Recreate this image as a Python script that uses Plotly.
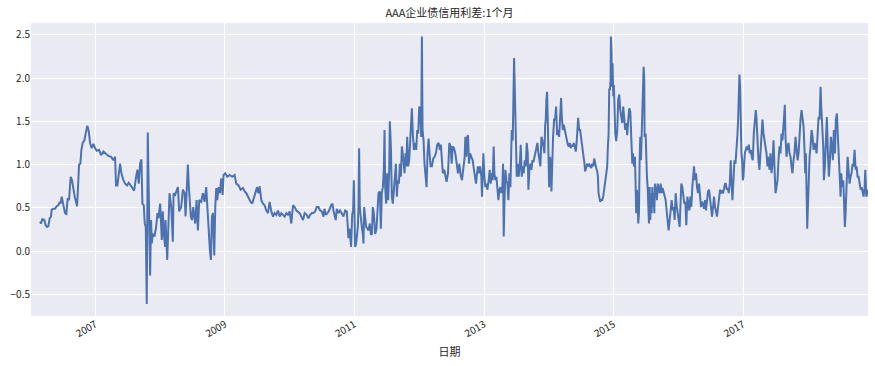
import pandas as pd
import plotly.graph_objects as go

title_text = "AAA企业债信用利差:1个月"
x_label = "日期"
y_ticks = [-0.5, 0.0, 0.5, 1.0, 1.5, 2.0, 2.5]
x_tick_years = ["2007", "2009", "2011", "2013", "2015", "2017"]

# (decimal year, spread %)
seg_2006_2007 = [
    (2006.145, 0.34), (2006.160, 0.32), (2006.181, 0.37), (2006.212, 0.36), (2006.232, 0.30),
    (2006.253, 0.28), (2006.274, 0.29), (2006.294, 0.38), (2006.315, 0.40), (2006.325, 0.48),
    (2006.351, 0.49), (2006.377, 0.49), (2006.402, 0.52), (2006.428, 0.53), (2006.449, 0.57),
    (2006.464, 0.55), (2006.480, 0.63), (2006.495, 0.56), (2006.515, 0.47), (2006.531, 0.44),
    (2006.552, 0.43), (2006.572, 0.61), (2006.593, 0.59), (2006.619, 0.86), (2006.639, 0.82),
    (2006.660, 0.71), (2006.681, 0.63), (2006.701, 0.57), (2006.717, 0.52), (2006.732, 0.74),
    (2006.748, 1.00), (2006.768, 1.01), (2006.784, 1.17), (2006.804, 1.25), (2006.830, 1.28),
    (2006.851, 1.36), (2006.876, 1.45), (2006.897, 1.39), (2006.918, 1.25), (2006.943, 1.19),
    (2006.969, 1.24), (2006.995, 1.19), (2007.021, 1.16), (2007.057, 1.17), (2007.088, 1.11),
    (2007.124, 1.15), (2007.160, 1.13), (2007.201, 1.10), (2007.242, 1.09), (2007.278, 1.05),
    (2007.304, 1.09), (2007.319, 0.76), (2007.340, 0.76), (2007.361, 0.90), (2007.381, 1.01),
    (2007.402, 0.90), (2007.428, 0.83), (2007.459, 0.78), (2007.489, 0.76), (2007.515, 0.79),
    (2007.541, 0.76), (2007.567, 0.73), (2007.598, 0.70), (2007.629, 0.86), (2007.649, 0.94),
    (2007.670, 0.78), (2007.690, 1.01), (2007.711, 1.06), (2007.726, 0.55), (2007.747, 0.53),
    (2007.762, 0.32), (2007.778, 0.28), (2007.793, -0.61), (2007.809, 1.37), (2007.824, 0.67),
    (2007.835, 0.36), (2007.845, -0.28), (2007.860, 0.36), (2007.871, 0.09), (2007.886, 0.20),
    (2007.912, 0.17), (2007.938, 0.28), (2007.958, 0.44), (2007.974, 0.38), (2007.989, 0.47),
]
seg_2008_2010 = [
    (2008.000, 0.55), (2008.015, 0.30), (2008.025, 0.13), (2008.041, 0.46), (2008.056, 0.20),
    (2008.077, 0.05), (2008.083, 0.36), (2008.109, -0.10), (2008.129, 0.51), (2008.145, 0.67),
    (2008.171, 0.51), (2008.196, 0.11), (2008.207, 0.67), (2008.232, 0.65), (2008.258, 0.71),
    (2008.274, 0.74), (2008.294, 0.46), (2008.325, 0.51), (2008.351, 0.71), (2008.377, 0.67),
    (2008.392, 0.40), (2008.413, 0.78), (2008.428, 1.00), (2008.444, 0.73), (2008.459, 0.59),
    (2008.474, 0.40), (2008.490, 0.36), (2008.511, 0.51), (2008.526, 0.40), (2008.541, 0.32),
    (2008.562, 0.59), (2008.583, 0.24), (2008.603, 0.59), (2008.634, 0.57), (2008.660, 0.67),
    (2008.686, 0.57), (2008.711, 0.74), (2008.727, 0.51), (2008.748, 0.32), (2008.768, 0.01),
    (2008.784, -0.10), (2008.799, 0.40), (2008.815, 0.44), (2008.835, -0.05), (2008.851, 0.51),
    (2008.866, 0.73), (2008.882, 0.59), (2008.902, 0.74), (2008.923, 0.67), (2008.943, 0.84),
    (2008.964, 0.65), (2008.979, 0.88), (2009.005, 0.90), (2009.036, 0.86), (2009.072, 0.88),
    (2009.113, 0.86), (2009.149, 0.88), (2009.175, 0.78), (2009.211, 0.76), (2009.242, 0.71),
    (2009.278, 0.73), (2009.304, 0.69), (2009.330, 0.67), (2009.366, 0.61), (2009.397, 0.57),
    (2009.422, 0.55), (2009.448, 0.63), (2009.474, 0.71), (2009.495, 0.74), (2009.515, 0.67),
    (2009.536, 0.75), (2009.562, 0.59), (2009.587, 0.55), (2009.613, 0.53), (2009.639, 0.47),
    (2009.665, 0.44), (2009.690, 0.57), (2009.716, 0.46), (2009.742, 0.40), (2009.768, 0.44),
    (2009.793, 0.42), (2009.819, 0.47), (2009.845, 0.40), (2009.871, 0.44), (2009.896, 0.42),
    (2009.922, 0.40), (2009.948, 0.44), (2009.974, 0.42), (2009.999, 0.46), (2010.025, 0.32),
    (2010.051, 0.53), (2010.077, 0.51), (2010.103, 0.47), (2010.128, 0.46), (2010.154, 0.44),
    (2010.180, 0.40), (2010.206, 0.36), (2010.231, 0.44),
]
seg_2010_2012 = [
    (2010.263, 0.42), (2010.289, 0.38), (2010.315, 0.42), (2010.341, 0.44), (2010.366, 0.44),
    (2010.392, 0.46), (2010.418, 0.51), (2010.444, 0.51), (2010.469, 0.47), (2010.495, 0.46),
    (2010.521, 0.40), (2010.536, 0.49), (2010.557, 0.42), (2010.583, 0.44), (2010.608, 0.47),
    (2010.639, 0.53), (2010.660, 0.55), (2010.675, 0.47), (2010.691, 0.40), (2010.711, 0.36),
    (2010.727, 0.49), (2010.753, 0.44), (2010.778, 0.47), (2010.804, 0.44), (2010.830, 0.40),
    (2010.856, 0.47), (2010.881, 0.46), (2010.897, 0.28), (2010.907, 0.15), (2010.923, 0.26),
    (2010.933, 0.13), (2010.948, 0.05), (2010.964, 0.42), (2010.979, 0.47), (2010.990, 0.82),
    (2011.000, 0.44), (2011.010, 0.05), (2011.026, 0.09), (2011.041, 0.17), (2011.052, 0.28),
    (2011.062, 0.51), (2011.072, 1.19), (2011.082, 0.51), (2011.098, 0.32), (2011.113, 0.28),
    (2011.129, 0.20), (2011.139, 0.09), (2011.149, 0.51), (2011.165, 0.32), (2011.180, 0.28),
    (2011.201, 0.26), (2011.216, 0.24), (2011.237, 0.32), (2011.252, 0.20), (2011.268, 0.19),
    (2011.283, 0.51), (2011.299, 0.44), (2011.319, 0.20), (2011.340, 0.26), (2011.361, 0.61),
    (2011.371, 0.67), (2011.392, 0.69), (2011.407, 0.26), (2011.422, 0.67), (2011.438, 0.74),
    (2011.453, 0.94), (2011.464, 1.40), (2011.474, 0.74), (2011.489, 0.55), (2011.505, 0.90),
    (2011.520, 0.59), (2011.536, 0.94), (2011.546, 1.50), (2011.562, 1.21), (2011.577, 0.63),
    (2011.592, 0.55), (2011.608, 0.74), (2011.623, 0.86), (2011.639, 1.01), (2011.654, 0.63),
    (2011.670, 0.82), (2011.685, 0.78), (2011.701, 1.01), (2011.716, 0.86), (2011.732, 1.21),
    (2011.742, 1.15), (2011.757, 0.98), (2011.773, 0.90), (2011.788, 1.13), (2011.799, 0.98),
    (2011.814, 1.32), (2011.829, 0.98), (2011.845, 1.05), (2011.860, 1.28), (2011.876, 1.40),
    (2011.886, 1.65), (2011.902, 1.34), (2011.917, 1.17), (2011.938, 1.25), (2011.953, 1.17),
    (2011.969, 1.40), (2011.984, 1.36), (2012.000, 1.67), (2012.015, 1.63), (2012.030, 1.32),
    (2012.041, 2.48), (2012.051, 1.40), (2012.066, 1.28), (2012.082, 1.00), (2012.097, 0.90),
    (2012.113, 0.74), (2012.128, 1.13), (2012.144, 1.30), (2012.159, 1.13), (2012.175, 0.98),
    (2012.195, 0.98), (2012.216, 1.07), (2012.236, 1.09), (2012.257, 1.13), (2012.278, 1.23),
    (2012.298, 1.25), (2012.319, 1.17), (2012.334, 1.23), (2012.350, 1.05), (2012.365, 0.90),
    (2012.386, 0.94), (2012.401, 0.86), (2012.422, 0.80),
]
seg_2012_2014 = [
    (2012.444, 0.90), (2012.464, 1.25), (2012.485, 1.21), (2012.500, 1.01), (2012.516, 1.21),
    (2012.536, 1.19), (2012.557, 1.13), (2012.578, 0.98), (2012.598, 0.90), (2012.619, 1.01),
    (2012.639, 0.88), (2012.660, 0.82), (2012.681, 0.98), (2012.701, 1.09), (2012.712, 1.32),
    (2012.727, 1.09), (2012.742, 1.32), (2012.753, 1.34), (2012.768, 1.01), (2012.784, 1.13),
    (2012.804, 1.09), (2012.825, 1.05), (2012.845, 0.94), (2012.861, 0.82), (2012.876, 0.78),
    (2012.892, 0.90), (2012.907, 0.98), (2012.923, 0.90), (2012.938, 0.98), (2012.959, 0.86),
    (2012.969, 0.63), (2012.979, 0.90), (2012.990, 1.13), (2013.005, 0.86), (2013.021, 0.74),
    (2013.036, 0.78), (2013.052, 0.71), (2013.072, 0.82), (2013.088, 0.94), (2013.103, 0.78),
    (2013.118, 0.90), (2013.134, 0.82), (2013.149, 1.21), (2013.160, 0.90), (2013.175, 0.82),
    (2013.191, 0.86), (2013.206, 0.74), (2013.222, 0.59), (2013.237, 0.71), (2013.252, 0.74),
    (2013.268, 0.67), (2013.283, 0.74), (2013.294, 1.01), (2013.304, 0.17), (2013.314, 0.51),
    (2013.330, 0.94), (2013.345, 0.82), (2013.361, 0.78), (2013.376, 0.59), (2013.392, 0.90),
    (2013.407, 0.74), (2013.418, 1.21), (2013.428, 1.40), (2013.443, 1.28), (2013.453, 1.63),
    (2013.464, 2.23), (2013.474, 1.90), (2013.484, 1.40), (2013.495, 0.94), (2013.505, 0.86),
    (2013.520, 1.01), (2013.536, 0.86), (2013.551, 0.98), (2013.567, 1.23), (2013.582, 0.86),
    (2013.598, 0.98), (2013.613, 0.90), (2013.629, 1.05), (2013.644, 0.98), (2013.659, 1.25),
    (2013.675, 1.13), (2013.685, 0.71), (2013.701, 0.94), (2013.716, 1.01), (2013.732, 0.94),
    (2013.747, 1.05), (2013.763, 1.03), (2013.778, 1.09), (2013.793, 1.15), (2013.809, 1.21),
    (2013.824, 1.25), (2013.840, 1.13), (2013.855, 1.05), (2013.871, 0.98), (2013.886, 1.32),
    (2013.902, 1.28), (2013.917, 1.21), (2013.933, 1.13), (2013.943, 1.44), (2013.953, 1.52),
    (2013.963, 1.75), (2013.974, 1.84), (2013.984, 1.52), (2013.994, 1.13), (2014.005, 0.74),
    (2014.020, 1.09), (2014.030, 1.01), (2014.041, 0.69), (2014.051, 1.05), (2014.066, 1.32),
    (2014.082, 1.52), (2014.097, 1.52), (2014.113, 1.67), (2014.128, 1.34), (2014.144, 1.40),
    (2014.159, 1.32), (2014.175, 1.55), (2014.190, 1.77), (2014.201, 1.55), (2014.216, 1.40),
    (2014.231, 1.46), (2014.247, 1.40), (2014.262, 1.32), (2014.278, 1.25), (2014.293, 1.23),
    (2014.309, 1.21), (2014.324, 1.25), (2014.340, 1.19), (2014.355, 1.23), (2014.370, 1.21),
    (2014.386, 1.25), (2014.401, 1.21), (2014.417, 1.15), (2014.432, 1.28), (2014.443, 1.44),
    (2014.453, 1.54), (2014.468, 1.40), (2014.484, 1.40), (2014.504, 1.28), (2014.520, 1.19),
    (2014.535, 1.15), (2014.551, 1.01), (2014.561, 0.92),
]
seg_2014_2016 = [
    (2014.593, 1.01), (2014.608, 0.98), (2014.624, 1.01), (2014.639, 0.98), (2014.655, 0.96),
    (2014.670, 1.01), (2014.686, 0.98), (2014.701, 1.07), (2014.717, 0.98), (2014.732, 0.96),
    (2014.748, 0.92), (2014.758, 0.86), (2014.768, 0.67), (2014.778, 0.63), (2014.794, 0.57),
    (2014.809, 0.59), (2014.825, 0.59), (2014.840, 0.63), (2014.856, 0.71), (2014.871, 0.78),
    (2014.887, 0.88), (2014.902, 0.98), (2014.912, 1.21), (2014.923, 1.34), (2014.933, 1.88),
    (2014.943, 1.86), (2014.954, 1.98), (2014.959, 2.48), (2014.969, 2.29), (2014.974, 1.90),
    (2014.985, 2.17), (2014.995, 1.79), (2015.005, 1.92), (2015.015, 1.52), (2015.026, 1.36),
    (2015.041, 1.27), (2015.057, 1.40), (2015.072, 1.75), (2015.088, 1.81), (2015.103, 1.63),
    (2015.119, 1.52), (2015.134, 1.48), (2015.149, 1.67), (2015.165, 1.52), (2015.180, 1.40),
    (2015.196, 1.48), (2015.211, 1.34), (2015.227, 1.52), (2015.242, 1.65), (2015.258, 1.61),
    (2015.268, 1.44), (2015.278, 1.09), (2015.289, 1.01), (2015.299, 1.13), (2015.314, 0.98),
    (2015.330, 1.09), (2015.340, 0.67), (2015.350, 0.44), (2015.361, 0.71), (2015.371, 0.59),
    (2015.381, 0.32), (2015.392, 0.44), (2015.402, 1.05), (2015.412, 1.32), (2015.423, 1.05),
    (2015.433, 1.32), (2015.443, 1.79), (2015.453, 1.90), (2015.464, 2.13), (2015.474, 1.98),
    (2015.479, 1.32), (2015.495, 1.36), (2015.505, 0.96), (2015.515, 0.86), (2015.526, 0.74),
    (2015.536, 0.55), (2015.546, 0.32), (2015.557, 0.74), (2015.567, 0.36), (2015.577, 0.67),
    (2015.587, 0.44), (2015.598, 0.74), (2015.608, 0.51), (2015.618, 0.67), (2015.629, 0.44),
    (2015.639, 0.78), (2015.649, 0.63), (2015.659, 0.74), (2015.670, 0.59), (2015.680, 0.78),
    (2015.696, 0.71), (2015.711, 0.67), (2015.727, 0.78), (2015.742, 0.67), (2015.757, 0.73),
    (2015.773, 0.69), (2015.789, 0.63), (2015.804, 0.59), (2015.819, 0.47), (2015.835, 0.36),
    (2015.850, 0.24), (2015.866, 0.36), (2015.881, 0.46), (2015.897, 0.59), (2015.912, 0.47),
    (2015.928, 0.51), (2015.943, 0.36), (2015.959, 0.67), (2015.974, 0.53), (2015.989, 0.40),
    (2016.005, 0.36), (2016.020, 0.28), (2016.036, 0.59), (2016.046, 0.78), (2016.062, 0.74),
    (2016.077, 0.59), (2016.092, 0.55), (2016.108, 0.57), (2016.123, 0.30), (2016.139, 0.63),
    (2016.154, 0.55), (2016.170, 0.47), (2016.185, 0.63), (2016.200, 0.51), (2016.216, 0.74),
    (2016.231, 0.94), (2016.242, 0.98), (2016.257, 0.82), (2016.273, 0.90), (2016.288, 0.74),
    (2016.303, 0.67), (2016.319, 0.78), (2016.334, 0.59), (2016.350, 0.51), (2016.365, 0.57),
    (2016.381, 0.55), (2016.396, 0.49), (2016.412, 0.59), (2016.427, 0.47), (2016.443, 0.59),
    (2016.458, 0.69), (2016.474, 0.71), (2016.489, 0.59), (2016.505, 0.55), (2016.520, 0.40),
    (2016.536, 0.51), (2016.551, 0.63), (2016.567, 0.51), (2016.582, 0.44), (2016.597, 0.40),
    (2016.613, 0.51), (2016.628, 0.59), (2016.644, 0.71), (2016.659, 0.67), (2016.674, 0.69),
    (2016.690, 0.67), (2016.705, 0.74), (2016.721, 0.78),
]
seg_2016_2018 = [
    (2016.732, 0.78), (2016.748, 0.71), (2016.763, 0.73), (2016.778, 0.67), (2016.794, 0.78),
    (2016.809, 1.05), (2016.820, 0.82), (2016.835, 0.59), (2016.851, 0.82), (2016.866, 1.05),
    (2016.882, 1.01), (2016.897, 1.13), (2016.912, 1.34), (2016.923, 1.52), (2016.933, 1.79),
    (2016.943, 2.04), (2016.954, 1.90), (2016.964, 1.44), (2016.974, 1.13), (2016.985, 1.05),
    (2016.995, 0.82), (2017.005, 0.86), (2017.015, 0.98), (2017.026, 1.13), (2017.041, 1.17),
    (2017.057, 1.21), (2017.072, 1.17), (2017.088, 1.23), (2017.103, 1.13), (2017.118, 1.17),
    (2017.134, 1.09), (2017.149, 1.05), (2017.165, 1.36), (2017.175, 1.44), (2017.185, 1.52),
    (2017.196, 1.63), (2017.206, 1.54), (2017.216, 1.36), (2017.227, 1.17), (2017.237, 1.05),
    (2017.252, 0.94), (2017.268, 1.13), (2017.283, 1.32), (2017.299, 1.52), (2017.314, 1.36),
    (2017.330, 1.28), (2017.345, 1.19), (2017.361, 1.13), (2017.376, 0.98), (2017.392, 1.09),
    (2017.407, 0.94), (2017.422, 1.13), (2017.438, 0.90), (2017.453, 1.01), (2017.469, 1.28),
    (2017.484, 0.94), (2017.500, 0.67), (2017.515, 0.74), (2017.531, 0.82), (2017.546, 1.05),
    (2017.562, 1.21), (2017.577, 1.13), (2017.593, 1.36), (2017.608, 1.28), (2017.624, 1.52),
    (2017.634, 1.67), (2017.644, 1.69), (2017.654, 1.32), (2017.670, 1.09), (2017.685, 1.21),
    (2017.701, 1.25), (2017.716, 1.13), (2017.732, 1.09), (2017.747, 0.98), (2017.762, 0.90),
    (2017.778, 1.05), (2017.793, 1.13), (2017.809, 1.32), (2017.825, 1.13), (2017.840, 1.05),
    (2017.856, 1.13), (2017.871, 1.44), (2017.886, 1.52), (2017.902, 1.63), (2017.917, 1.55),
    (2017.933, 1.44), (2017.948, 1.17), (2017.959, 0.90), (2017.969, 1.13), (2017.979, 0.51),
    (2017.990, 0.26), (2018.000, 0.51), (2018.010, 0.90), (2018.026, 1.09), (2018.041, 1.21),
    (2018.057, 1.40), (2018.072, 1.32), (2018.088, 1.17), (2018.103, 1.25), (2018.118, 1.21),
    (2018.134, 1.13), (2018.149, 1.32), (2018.165, 1.55), (2018.180, 1.52), (2018.196, 1.90),
    (2018.206, 1.67), (2018.222, 1.40), (2018.237, 1.21), (2018.247, 0.82), (2018.262, 0.98),
    (2018.278, 1.28), (2018.293, 1.55), (2018.309, 1.13), (2018.324, 0.86), (2018.340, 1.05),
    (2018.355, 1.32), (2018.370, 1.21), (2018.386, 1.05), (2018.401, 1.40), (2018.417, 1.13),
    (2018.432, 1.52), (2018.448, 1.59), (2018.463, 1.32), (2018.479, 1.13), (2018.494, 0.82),
    (2018.505, 0.63), (2018.515, 0.90), (2018.530, 0.74), (2018.546, 0.82), (2018.561, 0.51),
    (2018.571, 0.28), (2018.582, 0.44), (2018.597, 0.67), (2018.613, 1.09), (2018.628, 0.94),
    (2018.644, 0.78), (2018.659, 0.86), (2018.674, 0.90), (2018.690, 1.01), (2018.705, 0.98),
    (2018.721, 1.17), (2018.737, 0.94), (2018.752, 0.98), (2018.767, 0.86), (2018.783, 0.86),
    (2018.798, 0.78), (2018.814, 0.71), (2018.829, 0.74), (2018.845, 0.67), (2018.860, 0.63),
    (2018.876, 0.74), (2018.886, 0.94), (2018.902, 0.63), (2018.917, 0.67), (2018.928, 0.71),
]

x_range_years = (2006.006, 2018.928)
y_range = (-0.748, 2.635)


def year_to_date(y):
    return pd.Timestamp("2006-01-01") + pd.to_timedelta((y - 2006.0) * 365.25, unit="D")


points = seg_2006_2007 + seg_2008_2010 + seg_2010_2012 + seg_2012_2014 + seg_2014_2016 + seg_2016_2018
dates = [year_to_date(p[0]) for p in points]
values = [p[1] for p in points]

font_family = "Noto Sans CJK SC, Noto Sans, DejaVu Sans"
fig = go.Figure()
fig.add_trace(go.Scatter(x=dates, y=values, mode="lines",
                         line=dict(color="#4C72B0", width=2), showlegend=False))

fig.update_layout(
    width=875, height=366,
    margin=dict(l=31, r=7, t=23, b=50),
    paper_bgcolor="white", plot_bgcolor="#EAEAF2",
    font=dict(family=font_family, size=10, color="#262626"),
    title=dict(text=title_text, x=0.5, xref="paper", xanchor="center", y=0.965, yanchor="middle",
               font=dict(size=11, color="#262626")),
)
fig.update_xaxes(
    type="date",
    range=[year_to_date(x_range_years[0]), year_to_date(x_range_years[1])],
    tickvals=[pd.Timestamp(f"{y}-01-01") for y in x_tick_years],
    ticktext=x_tick_years,
    tickangle=-30, ticks="", showgrid=True, gridcolor="white", gridwidth=1.2,
    zeroline=False, showline=False,
    title=dict(text=x_label, font=dict(size=11), standoff=9),
    tickfont=dict(size=10),
)
fig.update_yaxes(
    range=list(y_range), tickvals=y_ticks, tickformat=".1f",
    ticks="", showgrid=True, gridcolor="white", gridwidth=1.2,
    zeroline=False, showline=False, tickfont=dict(size=10),
)

fig.write_html("out.html")
